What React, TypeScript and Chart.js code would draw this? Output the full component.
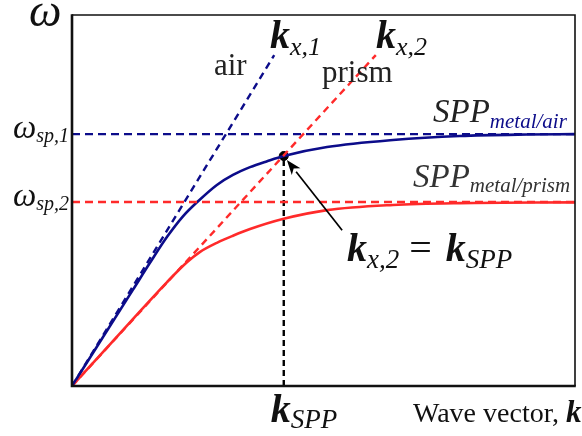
import React, { useEffect, useRef } from "react";
import { Chart, registerables } from "chart.js";

Chart.register(...registerables);

// Axis ranges (arbitrary units)
const K_MAX = 10;
const OMEGA_MAX = 10;

// Surface-plasmon limits
const omegaSp1 = 6.79;
const omegaSp2 = 4.96;

// Light lines in air and in the prism
const airK = [0, 4.02];
const airW = [0, 8.92];
const prismK = [0, 6.04];
const prismW = [0, 8.92];

// SPP dispersion, metal/air
const sppAirK = [0, 1.21, 1.55, 1.89, 2.21, 2.49, 2.88, 3.2, 3.54, 3.88, 4.21, 5.07, 6.38, 7.71, 9.05, 10];
const sppAirW = [0, 2.59, 3.32, 4.02, 4.58, 4.96, 5.42, 5.69, 5.9, 6.06, 6.2, 6.44, 6.63, 6.74, 6.78, 6.79];

// SPP dispersion, metal/prism
const sppPrismK = [0, 0.56, 1.21, 1.89, 2.29, 2.54, 2.88, 3.2, 3.54, 4.19, 5.07, 6.38, 7.71, 10];
const sppPrismW = [0, 0.83, 1.8, 2.8, 3.34, 3.61, 3.86, 4.05, 4.23, 4.5, 4.74, 4.88, 4.93, 4.95];

// Coupling point k_x,2 = k_SPP
const kSpp = 4.21;
const omegaSpp = 6.2;

const BLUE = "#0c0c8a";
const RED = "#ff2a2a";
const SERIF = '"Liberation Serif", "DejaVu Serif", serif';

const zip = (xs: number[], ys: number[]) => xs.map((x, i) => ({ x, y: ys[i] }));

type Run = { t: string; font: string; color?: string; dy?: number; gap?: number };

function drawRuns(ctx: CanvasRenderingContext2D, x: number, y: number, runs: Run[]) {
  let cx = x;
  for (const r of runs) {
    ctx.font = r.font;
    ctx.fillStyle = r.color || "#111";
    cx += r.gap || 0;
    ctx.fillText(r.t, cx, y + (r.dy || 0));
    cx += ctx.measureText(r.t).width;
  }
}

const annotations = {
  id: "annotations",
  afterDatasetsDraw(chart: any) {
    const { ctx, chartArea: a, scales } = chart;
    const xs = scales.x;
    const ys = scales.y;
    ctx.save();

    // frame
    ctx.strokeStyle = "#111";
    ctx.lineWidth = 1.6;
    ctx.beginPath();
    ctx.moveTo(a.left, a.top);
    ctx.lineTo(a.right, a.top);
    ctx.lineTo(a.right, a.bottom);
    ctx.stroke();
    ctx.lineWidth = 2.6;
    ctx.beginPath();
    ctx.moveTo(a.left, a.top - 0.8);
    ctx.lineTo(a.left, a.bottom);
    ctx.lineTo(a.right + 0.8, a.bottom);
    ctx.stroke();

    // arrow pointing at the coupling point
    const tipX = xs.getPixelForValue(kSpp);
    const tipY = ys.getPixelForValue(omegaSpp);
    const tailX = xs.getPixelForValue(5.37);
    const tailY = ys.getPixelForValue(4.2);
    const ang = Math.atan2(tipY - tailY, tipX - tailX);
    const hx = tipX - 5 * Math.cos(ang);
    const hy = tipY - 5 * Math.sin(ang);
    const L = 15;
    const W = 5.5;
    const bx = hx - L * Math.cos(ang);
    const by = hy - L * Math.sin(ang);
    ctx.strokeStyle = "#000";
    ctx.lineWidth = 1.7;
    ctx.beginPath();
    ctx.moveTo(tailX, tailY);
    ctx.lineTo(bx, by);
    ctx.stroke();
    ctx.fillStyle = "#000";
    ctx.beginPath();
    ctx.moveTo(hx, hy);
    ctx.lineTo(bx + W * Math.sin(ang), by - W * Math.cos(ang));
    ctx.lineTo(bx + 4 * Math.cos(ang), by + 4 * Math.sin(ang));
    ctx.lineTo(bx - W * Math.sin(ang), by + W * Math.cos(ang));
    ctx.closePath();
    ctx.fill();

    // labels
    ctx.textBaseline = "alphabetic";
    ctx.textAlign = "left";
    drawRuns(ctx, 29, 26, [{ t: "ω", font: `italic 46px ${SERIF}` }]);

    const y1 = ys.getPixelForValue(omegaSp1);
    const y2 = ys.getPixelForValue(omegaSp2);
    drawRuns(ctx, 13, y1 + 4, [
      { t: "ω", font: `italic 33px ${SERIF}` },
      { t: "sp,1", font: `italic 20px ${SERIF}`, dy: 4 },
    ]);
    drawRuns(ctx, 13, y2 + 4, [
      { t: "ω", font: `italic 33px ${SERIF}` },
      { t: "sp,2", font: `italic 20px ${SERIF}`, dy: 4 },
    ]);

    drawRuns(ctx, 270, 48, [
      { t: "k", font: `bold italic 40px ${SERIF}` },
      { t: "x,1", font: `italic 26px ${SERIF}`, dy: 7 },
    ]);
    drawRuns(ctx, 376, 48, [
      { t: "k", font: `bold italic 40px ${SERIF}` },
      { t: "x,2", font: `italic 26px ${SERIF}`, dy: 7 },
    ]);
    drawRuns(ctx, 214, 75, [{ t: "air", font: `31px ${SERIF}`, color: "#222" }]);
    drawRuns(ctx, 322, 82, [{ t: "prism", font: `31px ${SERIF}`, color: "#222" }]);

    drawRuns(ctx, 433, 122, [
      { t: "SPP", font: `italic 33px ${SERIF}`, color: "#222" },
      { t: "metal/air", font: `italic 21px ${SERIF}`, color: BLUE, dy: 6 },
    ]);
    drawRuns(ctx, 413, 187, [
      { t: "SPP", font: `italic 33px ${SERIF}`, color: "#333" },
      { t: "metal/prism", font: `italic 21px ${SERIF}`, color: "#333", dy: 5 },
    ]);

    drawRuns(ctx, 347, 261, [
      { t: "k", font: `bold italic 40px ${SERIF}` },
      { t: "x,2", font: `italic 27px ${SERIF}`, dy: 7 },
      { t: "=", font: `40px ${SERIF}`, gap: 10 },
      { t: "k", font: `bold italic 40px ${SERIF}`, gap: 14 },
      { t: "SPP", font: `italic 27px ${SERIF}`, dy: 7 },
    ]);

    drawRuns(ctx, xs.getPixelForValue(kSpp) - 13, 422, [
      { t: "k", font: `bold italic 40px ${SERIF}` },
      { t: "SPP", font: `italic 27px ${SERIF}`, dy: 6 },
    ]);

    drawRuns(ctx, 413, 422, [
      { t: "Wave vector, ", font: `28px ${SERIF}` },
      { t: "k", font: `bold italic 31px ${SERIF}` },
    ]);

    ctx.restore();
  },
};

export default function App() {
  const ref = useRef<HTMLCanvasElement | null>(null);

  useEffect(() => {
    if (!ref.current) return;
    const base = { pointRadius: 0, fill: false, showLine: true };
    const chart = new Chart(ref.current, {
      type: "scatter",
      data: {
        datasets: [
          { ...base, label: "ω_sp,1", data: zip([0, K_MAX], [omegaSp1, omegaSp1]), borderColor: BLUE, borderWidth: 2.4, borderDash: [8, 5] },
          { ...base, label: "ω_sp,2", data: zip([0, K_MAX], [omegaSp2, omegaSp2]), borderColor: RED, borderWidth: 2.4, borderDash: [8, 5] },
          { ...base, label: "air", data: zip(airK, airW), borderColor: BLUE, borderWidth: 2.4, borderDash: [7, 5] },
          { ...base, label: "prism", data: zip(prismK, prismW), borderColor: RED, borderWidth: 2.4, borderDash: [7, 5] },
          { ...base, label: "k_SPP", data: zip([kSpp, kSpp], [0, omegaSpp]), borderColor: "#000", borderWidth: 2.4, borderDash: [6, 4] },
          { ...base, label: "SPP metal/air", data: zip(sppAirK, sppAirW), borderColor: BLUE, borderWidth: 2.6, cubicInterpolationMode: "monotone" },
          { ...base, label: "SPP metal/prism", data: zip(sppPrismK, sppPrismW), borderColor: RED, borderWidth: 2.6, cubicInterpolationMode: "monotone" },
          { label: "coupling", data: [{ x: kSpp, y: omegaSpp }], showLine: false, pointRadius: 4.5, pointBackgroundColor: "#000", pointBorderColor: "#000" },
        ],
      } as any,
      options: {
        animation: false,
        responsive: false,
        maintainAspectRatio: false,
        layout: { padding: { left: 72, top: 15, right: 7, bottom: 50 } },
        plugins: { legend: { display: false }, tooltip: { enabled: false } },
        scales: {
          x: { type: "linear", min: 0, max: K_MAX, display: false },
          y: { type: "linear", min: 0, max: OMEGA_MAX, display: false },
        },
      },
      plugins: [annotations],
    });
    return () => chart.destroy();
  }, []);

  return (
    <div style={{ position: "fixed", left: 0, top: 0, width: 582, height: 436, background: "#fff" }}>
      <canvas ref={ref} width={582} height={436} style={{ width: 582, height: 436 }} />
    </div>
  );
}
